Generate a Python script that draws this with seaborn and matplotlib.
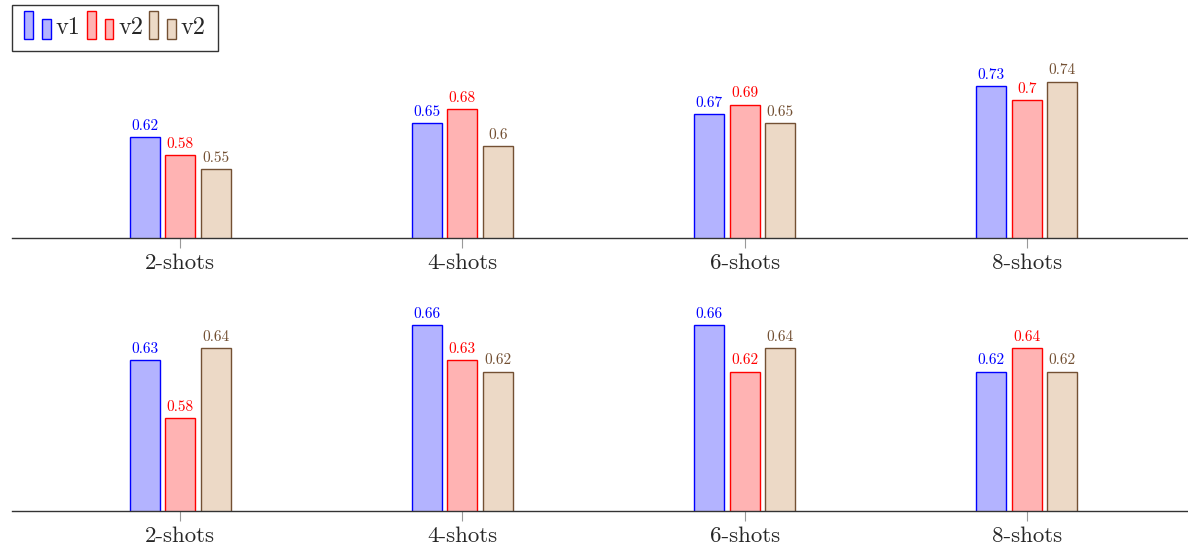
import matplotlib
matplotlib.use("Agg")
import matplotlib.pyplot as plt
import numpy as np
import pandas as pd
import seaborn as sb
from matplotlib.patches import Patch, Rectangle

shots = ["2-shots", "4-shots", "6-shots", "8-shots"]
series = ["s1", "s2", "s3"]
legend_names = ["v1", "v2", "v2"]

top_v1 = [0.62, 0.65, 0.67, 0.73]
top_v2 = [0.58, 0.68, 0.69, 0.70]
top_v3 = [0.55, 0.60, 0.65, 0.74]

bot_v1 = [0.63, 0.66, 0.66, 0.62]
bot_v2 = [0.58, 0.63, 0.62, 0.64]
bot_v3 = [0.64, 0.62, 0.64, 0.62]

fills = ["#b3b3ff", "#ffb3b3", "#ecd9c6"]
edges = ["#0000ff", "#ff0000", "#735033"]
label_cols = ["#0000ff", "#ff0000", "#735033"]

sb.set_style("white")
plt.rcParams["font.family"] = "serif"
plt.rcParams["font.serif"] = ["cmr10", "DejaVu Serif"]
plt.rcParams["axes.formatter.use_mathtext"] = True


def make_df(a, b, c):
    rows = []
    for s, vals in zip(series, [a, b, c]):
        for shot, v in zip(shots, vals):
            rows.append({"shot": shot, "series": s, "value": v})
    return pd.DataFrame(rows)


def draw(ax, df, ylim):
    sb.barplot(data=df, x="shot", y="value", hue="series", hue_order=series,
               order=shots, palette=fills, saturation=1, width=0.378, gap=0.16,
               linewidth=1.0, legend=False, ax=ax)
    for cont, ec, lc in zip(ax.containers, edges, label_cols):
        for bar in cont:
            bar.set_edgecolor(ec)
        ax.bar_label(cont, fmt="{:g}", padding=3, color=lc, fontsize=11)
    ax.set_ylim(*ylim)
    ax.set_xlim(-0.596, 3.571)
    ax.set_xlabel("")
    ax.set_ylabel("")
    ax.set_yticks([])
    for s in ["top", "left", "right"]:
        ax.spines[s].set_visible(False)
    ax.spines["bottom"].set_color("#333333")
    ax.spines["bottom"].set_linewidth(1.0)
    ax.tick_params(axis="x", length=7, color="#999999", width=0.8,
                   pad=4.5, labelsize=16.5, bottom=True)


class TwoBars:
    def legend_artist(self, legend, orig_handle, fontsize, handlebox):
        x0, y0 = handlebox.xdescent, handlebox.ydescent
        w, h = handlebox.width, handlebox.height
        fc = orig_handle.get_facecolor()
        ec = orig_handle.get_edgecolor()
        bw = w * 0.33
        r1 = Rectangle((x0, y0 - h * 0.3), bw, h * 1.65, fc=fc, ec=ec, lw=1.0,
                       transform=handlebox.get_transform())
        r2 = Rectangle((x0 + w - bw, y0 - h * 0.3), bw, h * 1.2, fc=fc, ec=ec,
                       lw=1.0, transform=handlebox.get_transform())
        handlebox.add_artist(r1)
        handlebox.add_artist(r2)
        return r1


fig = plt.figure(figsize=(11.88, 5.46), dpi=100)
ax1 = fig.add_axes([12 / 1188, 1 - 238 / 546, 1 - 12 / 1188, 183 / 546])
ax2 = fig.add_axes([12 / 1188, 35 / 546, 1 - 12 / 1188, 216 / 546])

draw(ax1, make_df(top_v1, top_v2, top_v3), (0.4, 0.4 + 183 / 460))
draw(ax2, make_df(bot_v1, bot_v2, bot_v3), (0.5, 0.5 + 216 / 1162))

handles = [Patch(facecolor=f, edgecolor=e) for f, e in zip(fills, edges)]
leg = fig.legend(handles, legend_names, loc="upper left",
                 bbox_to_anchor=(12 / 1188, 1 - 5 / 546), ncol=3,
                 handler_map={Patch: TwoBars()}, fontsize=17.5,
                 handlelength=1.1, handletextpad=0.2, columnspacing=0.25,
                 borderpad=0.5, borderaxespad=0, fancybox=False, frameon=True)
leg.get_frame().set_edgecolor("black")
leg.get_frame().set_linewidth(1.0)

fig.savefig("out.png", dpi=100)
